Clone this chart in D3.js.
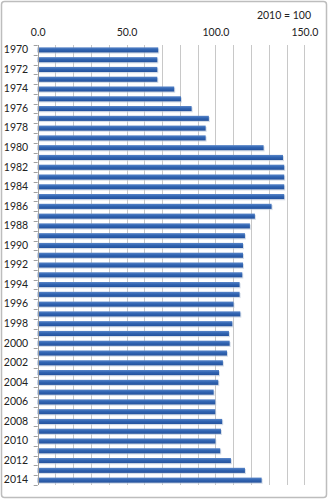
<!DOCTYPE html>
<html><head><meta charset="utf-8">
<script src="https://cdn.jsdelivr.net/npm/d3@7"></script>
<style>
html,body{margin:0;padding:0;background:#fff;}
svg{display:block;}
text{font-family:Lato,"Open Sans",sans-serif;fill:#222;}
</style></head>
<body><svg id="c" width="329" height="500"></svg>
<script>
const years = d3.range(1970, 2015).map(String);
const values = [67.8,67.3,67.3,67.3,76.8,80.6,86.6,96.3,94.5,94.5,
  127.1,138.0,138.7,138.7,138.7,138.7,131.6,122.2,119.4,116.6,
  115.5,115.5,115.5,115.1,113.6,113.6,110.2,114.0,109.5,107.6,
  108.0,106.5,104.2,102.0,101.6,99.0,99.9,99.9,103.8,103.1,
  100.0,102.7,108.7,116.6,126.0];
const xTicks = [0,50,100,150];
const note = "2010 = 100";

const svg = d3.select("#c");
svg.append("rect").attr("x",1.5).attr("y",1.5).attr("width",325).attr("height",496)
  .attr("rx",3).attr("fill","#fff").attr("stroke","#bdbdbd").attr("stroke-width",1.5);

const m = {left:37.7, right:304.3, top:45, bottom:485};
const x = d3.scaleLinear().domain([0,150]).range([m.left,m.right]);
const y = d3.scaleBand().domain(years).range([m.top,m.bottom]).paddingInner(0.48).paddingOuter(0.24);

const defs = svg.append("defs");
const g1 = defs.append("linearGradient").attr("id","bg").attr("x1",0).attr("x2",0).attr("y1",0).attr("y2",1);
g1.append("stop").attr("offset","0%").attr("stop-color","#5a86c8");
g1.append("stop").attr("offset","45%").attr("stop-color","#3064b2");
g1.append("stop").attr("offset","100%").attr("stop-color","#25529c");

// gridlines
svg.append("g").selectAll("line").data(d3.range(10,151,10)).join("line")
  .attr("x1",d=>x(d)+0.5|0).attr("x2",d=>x(d)+0.5|0).attr("y1",m.top).attr("y2",m.bottom)
  .attr("stroke","#c8c8c8").attr("stroke-width",1).attr("shape-rendering","crispEdges");

// bars shadow
svg.append("g").selectAll("rect").data(values).join("rect")
  .attr("x",x(0)+1).attr("y",(d,i)=>y(years[i])+1.2)
  .attr("width",d=>x(d)-x(0)).attr("height",y.bandwidth())
  .attr("fill","#b9c6d8").attr("opacity",0.6);
svg.append("g").selectAll("rect").data(values).join("rect")
  .attr("x",x(0)).attr("y",(d,i)=>y(years[i]))
  .attr("width",d=>x(d)-x(0)).attr("height",y.bandwidth())
  .attr("fill","url(#bg)");

// top axis labels
const xa = d3.axisTop(x).tickValues(xTicks).tickFormat(d3.format(".1f")).tickSize(0).tickPadding(9);
svg.append("g").attr("transform",`translate(0,${m.top})`).call(xa)
  .call(g=>g.select(".domain").remove())
  .call(g=>g.selectAll("text").style("font-size","10.5px").style("font-family","Lato, sans-serif").attr("fill","#222"));

// y axis
const ya = d3.axisLeft(y).tickValues(years.filter((d,i)=>i%2===0)).tickSize(0).tickPadding(9.5);
const yg = svg.append("g").attr("transform",`translate(${m.left},0)`).call(ya);
yg.select(".domain").remove();
yg.selectAll("text").style("font-size","10.5px").style("font-family","Lato, sans-serif").attr("fill","#222");
// boundary tick marks
svg.append("g").selectAll("line").data(years.map((d,i)=>i).concat([years.length])).join("line")
  .attr("x1",m.left-4).attr("x2",m.left)
  .attr("y1",i=>Math.round(m.top + i*(m.bottom-m.top)/years.length)+0.5)
  .attr("y2",i=>Math.round(m.top + i*(m.bottom-m.top)/years.length)+0.5)
  .attr("stroke","#a0a0a0");
svg.append("line").attr("x1",Math.round(m.left)+0.5).attr("x2",Math.round(m.left)+0.5)
  .attr("y1",m.top).attr("y2",m.bottom).attr("stroke","#a0a0a0");

svg.append("text").attr("x",311).attr("y",19).attr("text-anchor","end")
  .style("font-size","10.5px").text(note);
</script></body></html>
